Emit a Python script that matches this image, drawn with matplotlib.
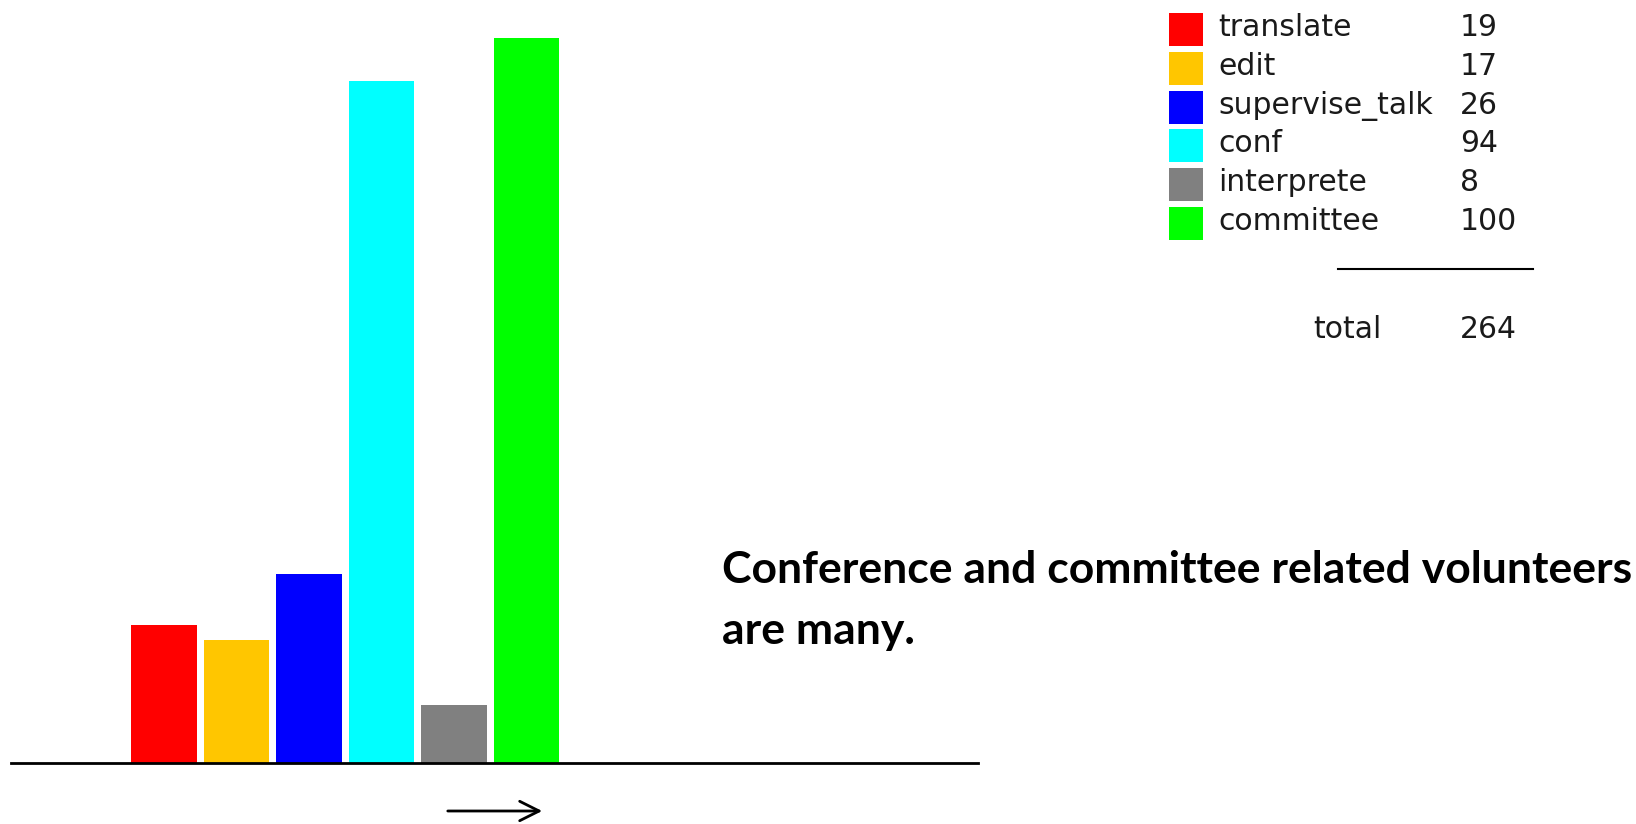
import matplotlib
matplotlib.use("Agg")
import matplotlib.pyplot as plt
from matplotlib.patches import Rectangle
from matplotlib.lines import Line2D

W, H = 1636, 824

categories = ["translate", "edit", "supervise_talk", "conf", "interprete", "committee"]
counts = [19, 17, 26, 94, 8, 100]
colors = ["#FF0000", "#FFC600", "#0000FF", "#00FFFF", "#808080", "#00FF00"]
total_label = "total"
total_value = sum(counts)
note = "Conference and committee related volunteers\nare many."


def fx(px):
    return px / W


def fy(py):
    # pixel from top -> figure fraction from bottom
    return 1 - py / H


fig = plt.figure(figsize=(W / 100, H / 100), dpi=100)

# bar area: baseline at y=763px, value 100 at y=37.5px
base, top100 = 763, 37.5
ax = fig.add_axes([fx(11), fy(base), fx(978 - 11), (base - top100) / H])
x = list(range(len(categories)))
ax.bar(x, counts, width=0.907, color=colors, edgecolor="none")
ax.set_ylim(0, 100)
ax.set_xlim((11 - 164) / 72.5, (978 - 164) / 72.5)
for s in ["top", "right", "left"]:
    ax.spines[s].set_visible(False)
ax.spines["bottom"].set_linewidth(2)
ax.spines["bottom"].set_color("black")
ax.set_xticks([])
ax.set_yticks([])
ax.patch.set_alpha(0)

# arrow under the axis
fig.add_artist(plt.Annotation("", xy=(fx(545), fy(811)), xytext=(fx(445), fy(811)),
                              xycoords="figure fraction", textcoords="figure fraction",
                              arrowprops=dict(arrowstyle="->", lw=2, color="black",
                                              mutation_scale=35)))

# legend-like table
font = "DejaVu Sans"
fs = 21.5
tc = "#1a1a1a"
for i, (c, n, col) in enumerate(zip(categories, counts, colors)):
    ytop = 13.3 + 38.7 * i
    fig.add_artist(Rectangle((fx(1169), fy(ytop + 33)), fx(34), 33 / H,
                             transform=fig.transFigure, facecolor=col, edgecolor="none"))
    yb = fy(ytop + 23)
    fig.text(fx(1218), yb, c, fontsize=fs, family=font, va="baseline", color=tc)
    fig.text(fx(1460), yb, str(n), fontsize=fs, family=font, va="baseline", color=tc)

fig.add_artist(Line2D([fx(1338), fx(1533)], [fy(269), fy(269)], color="black", lw=1.5,
                      transform=fig.transFigure))
fig.text(fx(1313), fy(338), total_label, fontsize=fs, family=font, va="baseline", color=tc)
fig.text(fx(1460), fy(338), str(total_value), fontsize=fs, family=font, va="baseline", color=tc)

# baseline of the last line
fig.text(fx(722), fy(644), note, fontsize=32, family="Lato", fontweight="bold",
         va="baseline", ha="left", linespacing=1.64)

fig.savefig("out.png", dpi=100)
